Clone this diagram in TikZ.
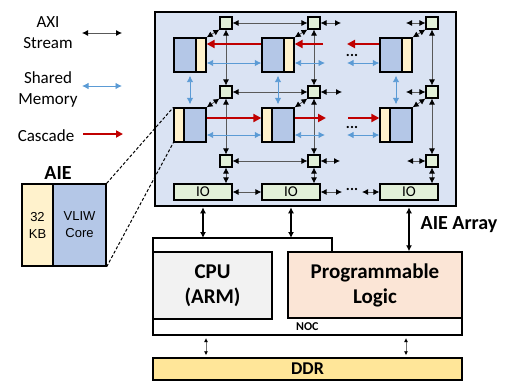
\documentclass[tikz,border=0pt]{standalone}
\usepackage{fontspec}
\setmainfont{Carlito}
\newfontfamily\arialfont{Liberation Sans}
\usetikzlibrary{arrows.meta}
\definecolor{arrbg}{HTML}{DAE3F3}
\definecolor{coreblue}{HTML}{B4C7E7}
\definecolor{memyel}{HTML}{FFF2CC}
\definecolor{swgreen}{HTML}{E2F0D9}
\definecolor{cascred}{HTML}{C00000}
\definecolor{shmblue}{HTML}{5B9BD5}
\definecolor{plpeach}{HTML}{FBE5D6}
\definecolor{cpugray}{HTML}{F2F2F2}
\definecolor{ddryel}{HTML}{FFE699}
\begin{document}
\begin{tikzpicture}[x=1pt,y=-1pt,
 sw/.style={draw,line width=1.1pt,fill=swgreen,minimum size=12pt,inner sep=0},
 core/.style={draw,line width=1.3pt,fill=coreblue,minimum width=22pt,minimum height=34pt,inner sep=0},
 mem/.style={draw,line width=1.3pt,fill=memyel,minimum width=10pt,minimum height=34pt,inner sep=0},
 io/.style={draw,line width=1.2pt,fill=swgreen,minimum width=58pt,minimum height=16pt,inner sep=0,font=\fontsize{15}{15}\selectfont},
 axi/.style={draw=black!65,line width=0.8pt,arrows={Latex[length=6pt,width=6pt,color=black]-Latex[length=6pt,width=6pt,color=black]}},
 shm/.style={draw=shmblue,line width=0.9pt,arrows={Latex[length=6.5pt,width=6.5pt]-Latex[length=6.5pt,width=6.5pt]}},
 casc/.style={draw=cascred,line width=2.4pt,arrows={-Triangle[length=8pt,width=8pt]}},
 bigarr/.style={draw=black,line width=1.8pt,arrows={Latex[length=6pt,width=6pt]-Latex[length=6pt,width=6pt]}},
 smallarr/.style={draw=black!55,line width=1pt,arrows={Latex[length=4pt,width=4pt,color=black]-Latex[length=4pt,width=4pt,color=black]}},
 lbl/.style={font=\fontsize{17}{21}\selectfont,align=center,inner sep=0},
 dots/.style={font=\fontsize{15}{15}\selectfont\bfseries,inner sep=0},
 blk/.style={draw,line width=1.4pt,inner sep=0,align=center}
]
\useasboundingbox (0,0) rectangle (508,381);

% ---- AIE array box
\node[draw,line width=2.5pt,fill=arrbg,minimum width=301pt,minimum height=194pt,inner sep=0] (array) at (305.5,109) {};

% ---- switches
\node[sw] (s11) at (226,23) {};
\node[sw] (s21) at (314,23) {};
\node[sw] (s31) at (432,23) {};
\node[sw] (s12) at (226,92) {};
\node[sw] (s22) at (314,92) {};
\node[sw] (s32) at (432,92) {};
\node[sw] (s13) at (226,161) {};
\node[sw] (s23) at (314,161) {};
\node[sw] (s33) at (432,161) {};

% ---- IO
\node[io] (io1) at (203,192) {IO};
\node[io] (io2) at (291,192) {IO};
\node[io] (io3) at (409,192) {IO};

% ---- tiles row 1 (core left, memory right)
\node[core] (c11) at (185,55) {};
\node[mem]  (m11) at (201,55) {};
\node[core] (c21) at (273,55) {};
\node[mem]  (m21) at (289,55) {};
\node[core] (c31) at (391,55) {};
\node[mem]  (m31) at (407,55) {};
% ---- tiles row 2 (memory left, core right)
\node[mem]  (m12) at (179,125) {};
\node[core] (c12) at (195,125) {};
\node[mem]  (m22) at (267,125) {};
\node[core] (c22) at (283,125) {};
\node[mem]  (m32) at (385,125) {};
\node[core] (c32) at (401,125) {};

% ---- free-end coordinates
\coordinate (ax1) at (341,23);
\coordinate (ax2) at (406,23);
\coordinate (ax3) at (342,92);
\coordinate (ax4) at (406,92);
\coordinate (ax5) at (340,161);
\coordinate (ax6) at (407,161);
\coordinate (ax7) at (342,192);
\coordinate (ax8) at (362,192);
\coordinate (rc1) at (323,44);
\coordinate (rc2) at (347,44);
\coordinate (rc3) at (326,118);
\coordinate (rc4) at (348,118);
\coordinate (bm1) at (325,63);
\coordinate (bm2) at (347,63);
\coordinate (bm3) at (325,135);
\coordinate (bm4) at (347,135);

% ---- AXI stream connections
\draw[axi] (s11) -- (s21);
\draw[axi] (s12) -- (s22);
\draw[axi] (s13) -- (s23);
\draw[axi] (s11) -- (s12);
\draw[axi] (s12) -- (s13);
\draw[axi] (s21) -- (s22);
\draw[axi] (s22) -- (s23);
\draw[axi] (s31) -- (s32);
\draw[axi] (s32) -- (s33);
\draw[axi] (s21.east) -- (ax1);
\draw[axi] (ax2) -- (s31.west);
\draw[axi] (s22.east) -- (ax3);
\draw[axi] (ax4) -- (s32.west);
\draw[axi] (s23.east) -- (ax5);
\draw[axi] (ax6) -- (s33.west);
\draw[axi] (s13.south) -- (s13.south |- io1.north);
\draw[axi] (s23.south) -- (s23.south |- io2.north);
\draw[axi] (s33.south) -- (s33.south |- io3.north);
\draw[axi] (io1.east) -- (io2.west);
\draw[axi] (io2.east) -- (ax7);
\draw[axi] (ax8) -- (io3.west);
\draw[axi] (s11.south west) -- (m11.north east);
\draw[axi] (s21.south west) -- (m21.north east);
\draw[axi] (s31.south west) -- (m31.north east);
\draw[axi] (s12.south west) -- (c12.north east);
\draw[axi] (s22.south west) -- (c22.north east);
\draw[axi] (s32.south west) -- (c32.north east);

% ---- shared memory
\draw[shm] ([yshift=-8pt]m11.east) -- ([yshift=-8pt]c21.west);
\draw[shm] ([yshift=-8pt]m21.east) -- (bm1);
\draw[shm] (bm2) -- ([yshift=-8pt]c31.west);
\draw[shm] ([yshift=-10pt]c12.east) -- ([yshift=-10pt]m22.west);
\draw[shm] ([yshift=-10pt]c22.east) -- (bm3);
\draw[shm] (bm4) -- ([yshift=-10pt]m32.west);
\draw[shm,shorten <=3pt,shorten >=3pt] ([xshift=5pt]c11.south) -- ([xshift=-5pt]c12.north);
\draw[shm,shorten <=3pt,shorten >=3pt] ([xshift=5pt]c21.south) -- ([xshift=-5pt]c22.north);
\draw[shm,shorten <=3pt,shorten >=3pt] ([xshift=5pt]c31.south) -- ([xshift=-5pt]c32.north);

% ---- cascade
\draw[casc] ([yshift=11pt]c21.west) -- ([yshift=11pt]m11.east);
\draw[casc] (rc1) -- ([yshift=11pt]m21.east);
\draw[casc] ([yshift=11pt]c31.west) -- (rc2);
\draw[casc] ([yshift=7pt]c12.east) -- ([yshift=7pt]m22.west);
\draw[casc] ([yshift=7pt]c22.east) -- (rc3);
\draw[casc] (rc4) -- ([yshift=7pt]m32.west);

% ---- dots
\node[dots] (d1) at (352,55) {...};
\node[dots] (d2) at (352,127) {...};
\node[dots] (d3) at (352,189) {...};

% ---- legend
\node[lbl] (tAXI) at (48,33) {AXI\\Stream};
\node[lbl] (tSM) at (48,89) {Shared\\Memory};
\node[lbl] (tCas) at (46,136) {Cascade};
\coordinate (la1) at (82,33); \coordinate (la2) at (122,33);
\coordinate (lb1) at (82,86); \coordinate (lb2) at (122,86);
\coordinate (lc1) at (83,134); \coordinate (lc2) at (123,134);
\draw[axi] (la1) -- (la2);
\draw[shm] (lb1) -- (lb2);
\draw[draw=cascred,line width=1.8pt,arrows={-Triangle[length=7pt,width=7pt]}] (lc1) -- (lc2);

% ---- AIE detail
\node[font=\fontsize{20}{20}\selectfont\bfseries,inner sep=0] (taie) at (58,173) {AIE};
\node[blk,fill=memyel,minimum width=31pt,minimum height=82pt,font=\arialfont\fontsize{13}{17}\selectfont] (kb) at (37.5,225) {32\\KB};
\node[blk,fill=coreblue,minimum width=53pt,minimum height=82pt,font=\arialfont\fontsize{13}{17}\selectfont] (vliw) at (79.5,225) {VLIW\\Core};
\draw[dashed,line width=1pt,dash pattern=on 3pt off 2pt] (vliw.north east) -- (m12.north west);
\draw[dashed,line width=1pt,dash pattern=on 3pt off 2pt] (vliw.south east) -- (m12.south west);

% ---- AIE Array label
\node[font=\fontsize{20}{20}\selectfont\bfseries,inner sep=0] (tarr) at (459,225) {AIE Array};

% ---- NOC, CPU, PL
\draw[line width=1.4pt,fill=white] (153,238) -- (332,238) -- (332,252) -- (462,252) -- (462,335) -- (153,335) -- cycle;
\coordinate (noc1) at (203,238);
\coordinate (noc2) at (291,238);
\coordinate (noc3) at (206,335);
\coordinate (noc4) at (406,335);
\node[blk,fill=cpugray,minimum width=119pt,minimum height=67pt,font=\fontsize{21}{25}\selectfont\bfseries] (cpu) at (212.5,285.5) {CPU\\(ARM)};
\node[blk,fill=plpeach,minimum width=174pt,minimum height=66pt,font=\fontsize{21}{25}\selectfont\bfseries] (pl) at (375,285) {Programmable\\Logic};
\node[font=\fontsize{12}{12}\selectfont\bfseries,anchor=west,inner sep=0] (tnoc) at (296,327) {NOC};

% ---- DDR
\node[blk,fill=ddryel,minimum width=309pt,minimum height=22pt,font=\fontsize{18}{18}\selectfont\bfseries] (ddr) at (307.5,369) {DDR};

% ---- vertical links
\draw[bigarr] (io1.south |- array.south) -- (noc1);
\draw[bigarr] (io2.south |- array.south) -- (noc2);
\draw[bigarr] (io3.south |- array.south) -- (io3.south |- pl.north);
\draw[smallarr,shorten <=3pt,shorten >=2pt] (noc3) -- (noc3 |- ddr.north);
\draw[smallarr,shorten <=3pt,shorten >=2pt] (noc4) -- (noc4 |- ddr.north);
\end{tikzpicture}
\end{document}
